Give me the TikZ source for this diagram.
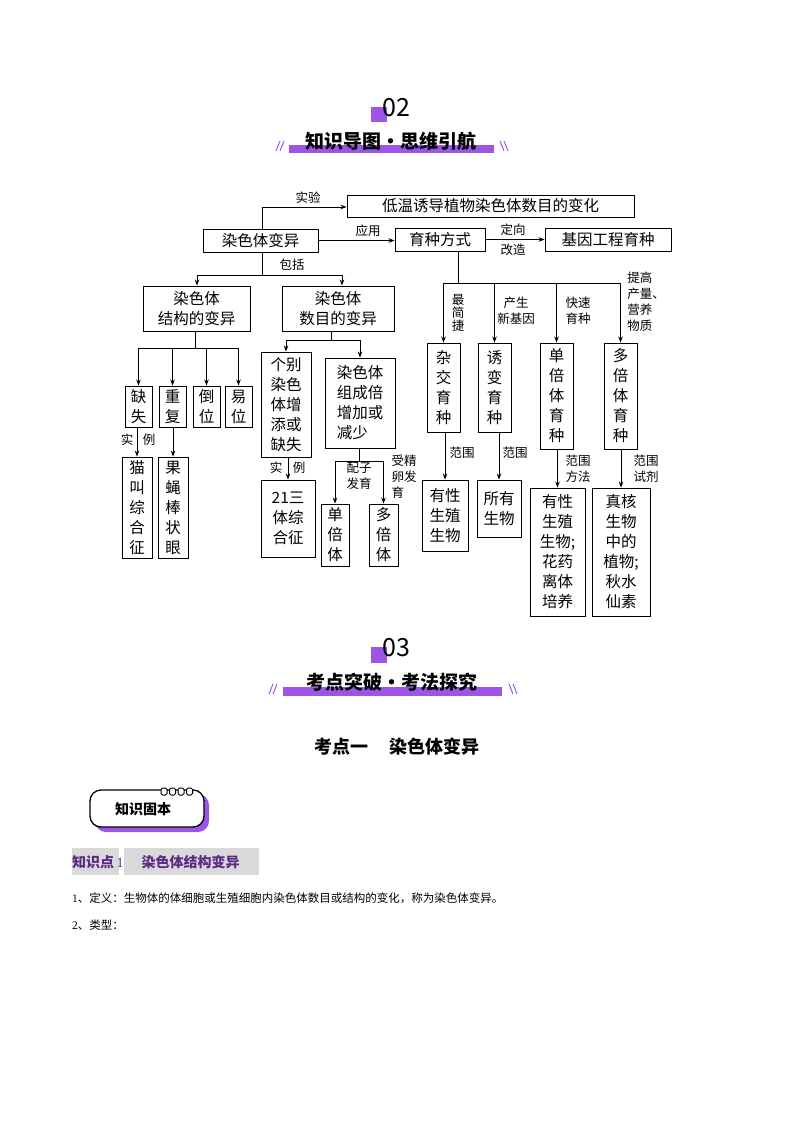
\documentclass[tikz,border=0pt]{standalone}
\usepackage{fontspec}
\setmainfont{Liberation Serif}
\newfontfamily\cjk{Noto Sans CJK SC}
\usetikzlibrary{arrows.meta}
\definecolor{pur}{HTML}{9D55E8}
\definecolor{dpur}{HTML}{5B2A86}
\definecolor{gbg}{HTML}{D9D9D9}
\tikzset{
 bx/.style={draw,line width=0.9pt,inner sep=0pt,align=center,font=\cjk\fontsize{15.5}{20}\selectfont},
 lb/.style={inner sep=0pt,align=center,font=\cjk\fontsize{12.5}{16}\selectfont},
 ar/.style={line width=0.9pt,-{Stealth[length=6pt,width=4.5pt]}},
 ln/.style={line width=0.9pt},
}
\begin{document}
\begin{tikzpicture}[x=1pt,y=-1pt]
\useasboundingbox (0,0) rectangle (794,1123);
\fill[white] (0,0) rectangle (794,1123);
% header 02
\fill[pur] (371,107) rectangle (387,122);
\node[inner sep=0pt,font=\cjk\fontsize{25}{25}\selectfont] (h02) at (396,108) {02};
\fill[pur] (289,145) rectangle (494,153);
\node[inner sep=0pt,font=\cjk\bfseries\fontsize{19}{19}\selectfont] (t1) at (391,141) {知识导图·思维引航};
\draw[pur,line width=1pt] (276,151)--(280,141) (280,151)--(284,141);
\draw[pur,line width=1pt] (500,141)--(504,151) (504,141)--(508,151);
% diagram
\node[bx,minimum width=115,minimum height=23] (bianyi) at (260.5,240.5) {染色体变异};
\node[bx,minimum width=287,minimum height=22] (diwen) at (490.5,206) {低温诱导植物染色体数目的变化};
\node[bx,minimum width=90,minimum height=23] (yz) at (440,239.5) {育种方式};
\node[bx,minimum width=126,minimum height=23] (jy) at (608,239.5) {基因工程育种};
\node[bx,minimum width=107,minimum height=45] (jg) at (196.5,308.5) {染色体\\结构的变异};
\node[bx,minimum width=112,minimum height=45] (sm) at (338,308.5) {染色体\\数目的变异};
\node[bx,minimum width=27,minimum height=41] (que) at (138.5,406.5) {缺\\失};
\node[bx,minimum width=27,minimum height=41] (chong) at (172.5,406.5) {重\\复};
\node[bx,minimum width=27,minimum height=41] (dao) at (206.5,406.5) {倒\\位};
\node[bx,minimum width=27,minimum height=41] (yi) at (238.5,406.5) {易\\位};
\node[bx,minimum width=30,minimum height=101] (mj) at (137,507.5) {猫\\叫\\综\\合\\征};
\node[bx,minimum width=30,minimum height=101] (gy) at (173,507.5) {果\\蝇\\棒\\状\\眼};
\node[bx,minimum width=50,minimum height=105] (gb) at (286,404.5) {个别\\染色\\体增\\添或\\缺失};
\node[bx,minimum width=70,minimum height=90,align=left] (zu) at (360,403) {染色体\\组成倍\\增加或\\减少};
\node[bx,minimum width=54,minimum height=77] (st) at (288,518.5) {21三\\体综\\合征};
\node[bx,minimum width=28,minimum height=62] (dbt) at (335,535) {单\\倍\\体};
\node[bx,minimum width=29,minimum height=62] (dbt2) at (383.5,535) {多\\倍\\体};
\node[bx,minimum width=33,minimum height=89] (zj) at (443.5,387.5) {杂\\交\\育\\种};
\node[bx,minimum width=33,minimum height=89] (yb) at (494.5,387.5) {诱\\变\\育\\种};
\node[bx,minimum width=33,minimum height=106] (dy) at (556.5,396) {单\\倍\\体\\育\\种};
\node[bx,minimum width=33,minimum height=106] (dy2) at (620.5,396) {多\\倍\\体\\育\\种};
\node[bx,minimum width=46,minimum height=71] (yx) at (445,515.5) {有性\\生殖\\生物};
\node[bx,minimum width=44,minimum height=57] (sy) at (499,508.5) {所有\\生物};
\node[bx,minimum width=55,minimum height=128] (hy) at (557.5,552) {有性\\生殖\\生物;\\花药\\离体\\培养};
\node[bx,minimum width=58,minimum height=128] (zh) at (621,552) {真核\\生物\\中的\\植物;\\秋水\\仙素};
% connectors top
\coordinate (c1) at (262,207);
\draw[ar] (bianyi.north -| c1) -- (c1) -- (diwen.west |- c1);
\node[lb] (l1) at (308,198) {实验};
\draw[ar] (bianyi.east) -- (yz.west |- bianyi.east);
\node[lb] (l2) at (368,231) {应用};
\draw[ar] (yz.east) -- (jy.west);
\node[lb] (l3) at (513,230) {定向};
\node[lb] (l4) at (513,250) {改造};
\coordinate (c2) at (262,275);
\draw[ln] (bianyi.south -| c2) -- (c2);
\draw[ar] (c2) -| (jg.north -| 197,0);
\draw[ar] (c2) -| (sm.north -| 342,0);
\node[lb] (l5) at (292,265) {包括};
% breeding
\coordinate (c3) at (458,283);
\draw[ln] (yz.south -| c3) -- (c3);
\draw[ln] (zj.north |- c3) -- (dy2.north |- c3);
\foreach \n in {zj,yb,dy,dy2} \draw[ar] (\n.north |- c3) -- (\n.north);
\node[lb] (l6) at (458,313) {最\\[-3pt]简\\[-3pt]捷};
\node[lb] (l7) at (516,311) {产生\\新基因};
\node[lb] (l8) at (578,311) {快速\\育种};
\node[lb,align=left] (l9) at (646,302) {提高\\产量、\\营养\\物质};
\foreach \a/\b in {zj/yx,yb/sy,dy/hy,dy2/zh} \draw[ar] (\a.south) -- (\a.south -| \b.north) -- (\b.north);
\node[lb] (l10) at (462,453) {范围};
\node[lb] (l11) at (515,453) {范围};
\node[lb] (l12) at (578,469) {范围\\方法};
\node[lb] (l13) at (646,469) {范围\\试剂};
% structure
\coordinate (c4) at (195,348);
\draw[ln] (jg.south -| c4) -- (c4);
\draw[ln] (que.north |- c4) -- (yi.north |- c4);
\foreach \n in {que,chong,dao,yi} \draw[ar] (\n.north |- c4) -- (\n.north);
\draw[ar] (que.south) -- (que.south -| mj.north) -- (mj.north);
\node[lb] (l14) at (127,440) {实};
\node[lb] (l15) at (149,440) {例};
\draw[ar] (chong.south) -- (chong.south -| gy.north) -- (gy.north);
% number
\coordinate (c5) at (331,340);
\draw[ln] (sm.south -| c5) -- (c5);
\draw[ln] (gb.north |- c5) -- (zu.north |- c5);
\draw[ar] (gb.north |- c5) -- (gb.north);
\draw[ar] (zu.north |- c5) -- (zu.north);
\draw[ar] (gb.south) -- (gb.south -| st.north) -- (st.north);
\node[lb] (l16) at (276,468) {实};
\node[lb] (l17) at (299,468) {例};
\coordinate (c6) at (359,461);
\draw[ln] (zu.south -| c6) -- (c6);
\draw[ln] (dbt.north |- c6) -- (dbt2.north |- c6);
\draw[ar] (dbt.north |- c6) -- (dbt.north);
\draw[ar] (dbt2.north |- c6) -- (dbt2.north);
\node[lb] (l18) at (359,476) {配子\\发育};
\node[lb,align=left] (l19) at (404,477) {受精\\卵发\\育};
% header 03
\fill[pur] (371,647) rectangle (387,663);
\node[inner sep=0pt,font=\cjk\fontsize{25}{25}\selectfont] (h03) at (396,648) {03};
\fill[pur] (283,687) rectangle (502,696);
\node[inner sep=0pt,font=\cjk\bfseries\fontsize{19}{19}\selectfont] (t2) at (392,682) {考点突破·考法探究};
\draw[pur,line width=1pt] (269,694)--(273,684) (273,694)--(277,684);
\draw[pur,line width=1pt] (509,684)--(513,694) (513,684)--(517,694);
\node[inner sep=0pt,font=\cjk\bfseries\fontsize{18}{18}\selectfont] (kd) at (397,747) {考点一\hspace{1.2em}染色体变异};
% badge
\fill[pur,rounded corners=11] (95,794) rectangle (209,832);
\draw[fill=white,line width=1.3pt,rounded corners=11] (90,790) rectangle (204,827);
\foreach \i in {0,1,2,3} \draw[fill=white,line width=1pt,rounded corners=1.5] (161+\i*8.5,788) rectangle (167+\i*8.5,795);
\node[inner sep=0pt,font=\cjk\bfseries\fontsize{14}{14}\selectfont] (bd) at (143,809) {知识固本};
% knowledge point
\fill[gbg] (72,848) rectangle (119,875);
\fill[gbg] (124,848) rectangle (259,875);
\node[inner sep=0pt,anchor=west,text=dpur,font=\cjk\bfseries\fontsize{14}{14}\selectfont] (kp) at (72,862) {知识点\,\textmd{\rmfamily 1}\hspace{1.3em}染色体结构变异};
\node[inner sep=0pt,anchor=west,font=\cjk\fontsize{11.5}{14}\selectfont] (p1) at (72,898) {{\rmfamily 1}、定义：生物体的体细胞或生殖细胞内染色体数目或结构的变化，称为染色体变异。};
\node[inner sep=0pt,anchor=west,font=\cjk\fontsize{11.5}{14}\selectfont] (p2) at (72,925) {{\rmfamily 2}、类型：};
\end{tikzpicture}
\end{document}
